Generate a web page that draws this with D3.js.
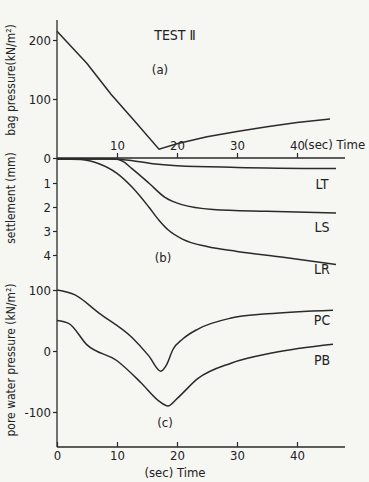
<!DOCTYPE html>
<html>
<head>
<meta charset="utf-8">
<script src="https://cdn.jsdelivr.net/npm/d3@7"></script>
<style>
  body { margin: 0; background: #f6f6f3; }
  text { font-family: "DejaVu Sans Condensed", "DejaVu Sans", sans-serif; fill: #222; }
</style>
</head>
<body>
<div id="chart"></div>
<script>
// time (sec) and values for each curve
var bagT   = [0, 5, 9, 13, 17, 20, 25, 30, 35, 40, 45.5]
var bagP   = [215, 160, 108, 62, 15, 24, 36, 45, 53, 60, 66]

var ltT = [0, 9, 12, 16, 20, 30, 46.5]
var ltS = [0, 0, 0.05, 0.2, 0.28, 0.35, 0.4]
var lsT = [0, 9.5, 11, 12.5, 15.3, 18, 20.8, 26, 35, 46.5]
var lsS = [0, 0, 0.1, 0.4, 1.0, 1.6, 1.9, 2.1, 2.18, 2.25]
var lrT = [0, 4, 7, 10, 12.5, 15.3, 17, 18.5, 21, 25, 30, 38, 46.5]
var lrS = [0, 0.02, 0.2, 0.6, 1.17, 2.0, 2.55, 2.95, 3.35, 3.65, 3.85, 4.1, 4.4]

var pcT = [0, 3, 7, 12.5, 15.3, 17.3, 18.3, 19.3, 21, 23.5, 29, 35, 46]
var pcU = [100, 92, 62, 22, -8, -33, -22, 2, 20, 36, 54, 61, 67]
var pbT = [0, 2, 5, 10, 14, 17, 18.5, 20, 23.5, 29, 36, 46]
var pbU = [50, 45, 10, -16, -52, -82, -90, -78, -45, -20, -3, 11]

var timeTicks = [0, 10, 20, 30, 40]
var bagTicks = [0, 100, 200]
var setTicks = [1, 2, 3, 4]
var poreTicks = [-100, 0, 100]

var width = 369, height = 482

var svg = d3.select("#chart").append("svg")
  .attr("width", width)
  .attr("height", height)

var x = d3.scaleLinear().domain([0, 40]).range([57, 297])
var ya = d3.scaleLinear().domain([0, 200]).range([158, 40])
var yb = d3.scaleLinear().domain([0, 4]).range([159, 255])
var yc = d3.scaleLinear().domain([-100, 100]).range([412, 290])

var ink = "#2a2a2a"
var plain = function(d) { return String(d) }

// main vertical axis line
svg.append("line")
  .attr("x1", 57).attr("x2", 57)
  .attr("y1", 20).attr("y2", 447)
  .attr("stroke", ink).attr("stroke-width", 1.3)

function styleAxis(g) {
  g.select(".domain").attr("stroke", ink).attr("stroke-width", 1.3)
  g.selectAll(".tick line").attr("stroke", ink).attr("stroke-width", 1.2)
  g.selectAll("text").style("font-size", "13px").attr("fill", "#222")
}

// top time axis (panel a)
var topAxis = svg.append("g")
  .attr("transform", "translate(0," + ya(0) + ")")
  .call(d3.axisTop(x).tickValues(timeTicks.slice(1)).tickFormat(plain).tickSize(5).tickPadding(3).tickSizeOuter(0))
topAxis.select(".domain").attr("d", "M57,0H345")
styleAxis(topAxis)
svg.append("text")
  .attr("x", 304).attr("y", 149)
  .style("font-size", "13px")
  .text("(sec) Time")

// bag pressure axis
var aAxis = svg.append("g")
  .attr("transform", "translate(57,0)")
  .call(d3.axisLeft(ya).tickValues(bagTicks).tickFormat(plain).tickSize(4).tickPadding(2).tickSizeOuter(0))
aAxis.select(".domain").remove()
styleAxis(aAxis)

// settlement axis
var bAxis = svg.append("g")
  .attr("transform", "translate(57,0)")
  .call(d3.axisLeft(yb).tickValues(setTicks).tickFormat(plain).tickSize(4).tickPadding(2).tickSizeOuter(0))
bAxis.select(".domain").remove()
styleAxis(bAxis)

// pore pressure axis
var cAxis = svg.append("g")
  .attr("transform", "translate(57,0)")
  .call(d3.axisLeft(yc).tickValues(poreTicks).tickFormat(plain).tickSize(4).tickPadding(2).tickSizeOuter(0))
cAxis.select(".domain").remove()
styleAxis(cAxis)

// bottom time axis
var botAxis = svg.append("g")
  .attr("transform", "translate(0,447)")
  .call(d3.axisBottom(x).tickValues(timeTicks).tickFormat(plain).tickSize(-5).tickPadding(4).tickSizeOuter(0))
botAxis.select(".domain").attr("d", "M57,0H345")
styleAxis(botAxis)
svg.append("text")
  .attr("x", 175).attr("y", 477)
  .attr("text-anchor", "middle")
  .style("font-size", "13px")
  .text("(sec) Time")

// curves
function draw(ts, vs, y, curve) {
  var pts = ts.map(function(t, i) { return [t, vs[i]] })
  var line = d3.line()
    .x(function(d) { return x(d[0]) })
    .y(function(d) { return y(d[1]) })
    .curve(curve || d3.curveMonotoneX)
  svg.append("path")
    .datum(pts)
    .attr("d", line)
    .attr("fill", "none")
    .attr("stroke", ink)
    .attr("stroke-width", 1.5)
}

draw(bagT, bagP, ya, d3.curveLinear)
draw(ltT, ltS, yb)
draw(lsT, lsS, yb)
draw(lrT, lrS, yb)
draw(pcT, pcU, yc)
draw(pbT, pbU, yc)

// labels
function label(txt, lx, ly, size) {
  svg.append("text")
    .attr("x", lx).attr("y", ly)
    .attr("text-anchor", "middle")
    .style("font-size", (size || 14) + "px")
    .text(txt)
}
label("TEST  \u2161", 175, 40, 14)
label("(a)", 160, 74, 13)
label("(b)", 163, 262, 13)
label("(c)", 165, 427, 13)
label("LT", 322, 189)
label("LS", 322, 232)
label("LR", 322, 274)
label("PC", 322, 325)
label("PB", 322, 365)

// y axis titles
function ytitle(txt, cx, cy) {
  svg.append("text")
    .attr("transform", "translate(" + cx + "," + cy + ") rotate(-90)")
    .attr("text-anchor", "middle")
    .style("font-size", "12px")
    .text(txt)
}
ytitle("bag pressure(kN/m\u00b2)", 15, 80)
ytitle("settlement (mm)", 15, 198)
ytitle("pore water pressure (kN/m\u00b2)", 15, 360)
</script>
</body>
</html>
